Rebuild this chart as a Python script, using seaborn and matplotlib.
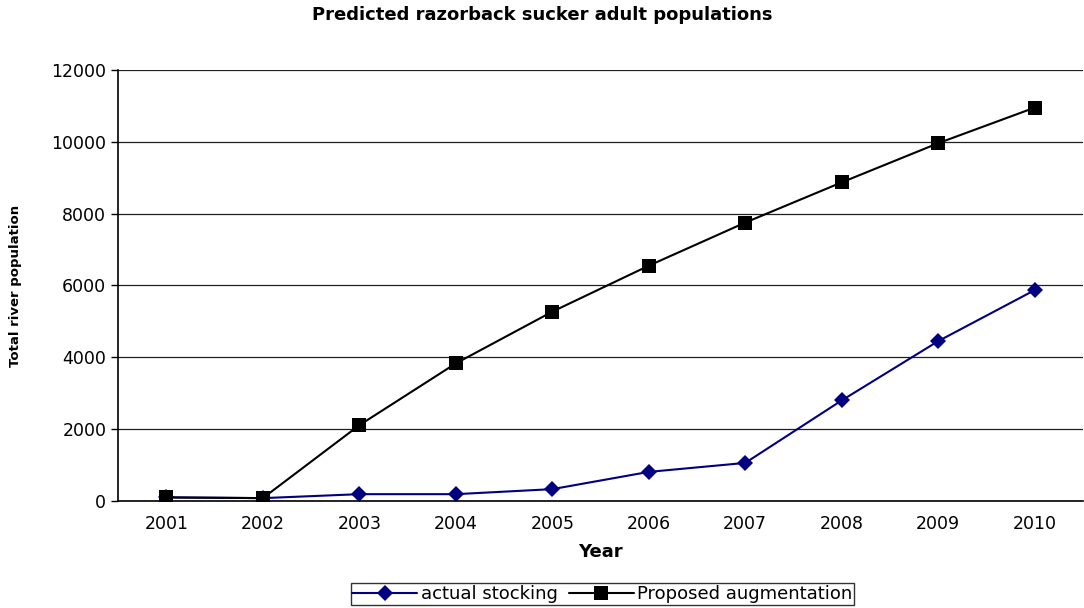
import pandas as pd
import matplotlib
matplotlib.use("Agg")
import matplotlib.pyplot as plt
import seaborn as sns

# Values
years = ["2001", "2002", "2003", "2004", "2005", "2006", "2007", "2008", "2009", "2010"]
actual_stocking = [100, 80, 190, 190, 330, 810, 1060, 2800, 4450, 5870]
proposed_augmentation = [100, 80, 2110, 3830, 5270, 6550, 7750, 8870, 9960, 10950]

sns.set_style("white")
plt.rcParams['font.family'] = ['DejaVu Sans']
plt.rcParams['text.color'] = 'black'
plt.rcParams['axes.labelcolor'] = 'black'
plt.rcParams['xtick.color'] = 'black'
plt.rcParams['ytick.color'] = 'black'

pos = list(range(len(years)))

fig = plt.figure(figsize=(10.84, 6.08), dpi=100)
ax = fig.add_axes([0.109, 0.176, 0.890, 0.709])

# actual first, proposed drawn on top
sns.lineplot(x=pos, y=actual_stocking, color="#000080", marker="D", markersize=8.5,
             markeredgewidth=0, linewidth=1.5, label="actual stocking", ax=ax)
sns.lineplot(x=pos, y=proposed_augmentation, color="black", marker="s", markersize=10,
             markeredgewidth=0, linewidth=1.5, label="Proposed augmentation", ax=ax)

ax.set_xlim(-0.5, len(years) - 0.5)
ax.set_ylim(0, 12000)
ax.set_yticks(range(0, 12001, 2000))
ax.set_xticks(pos)
ax.set_xticklabels(years, fontsize=12.5)
ax.tick_params(axis="x", which="major", length=0, pad=10)
ax.set_xticks([i - 0.5 for i in range(len(years) + 1)], minor=True)
ax.tick_params(axis="x", which="minor", length=6, width=1, color="black", direction="out")
ax.tick_params(axis="y", labelsize=12.5, length=5, width=1, color="black", direction="out", left=True)

ax.grid(axis="y", color="#202020", linewidth=0.9)
ax.grid(axis="x", visible=False)
for side in ["top", "right"]:
    ax.spines[side].set_visible(False)
for side in ["left", "bottom"]:
    ax.spines[side].set_color("black")
    ax.spines[side].set_linewidth(1.2)

ax.set_xlabel("Year", fontsize=13, fontweight="bold", labelpad=7)
ax.set_ylabel("Total river population", fontsize=9.5, fontweight="bold", labelpad=21)
fig.suptitle("Predicted razorback sucker adult populations", fontsize=13, fontweight="bold", y=0.99)

leg = ax.legend(loc="lower center", bbox_to_anchor=(0.502, -0.262), ncol=2, fontsize=13,
                frameon=True, fancybox=False, edgecolor="black", handlelength=3.6,
                borderpad=0.1, columnspacing=0.6, handletextpad=0.2)
leg.get_frame().set_linewidth(1)

fig.savefig("out.png", dpi=100)
